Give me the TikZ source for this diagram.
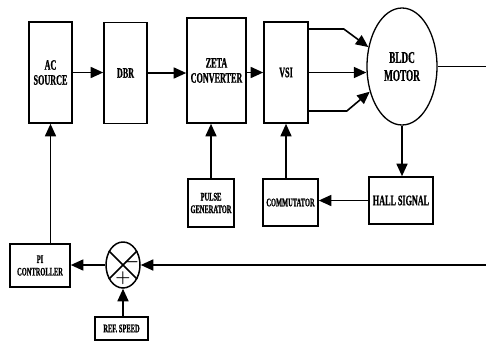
\documentclass[tikz,border=0pt]{standalone}
\usepackage{fontspec}
\setmainfont[FakeStretch=0.56, BoldFeatures={FakeBold=0.8}]{Liberation Serif}
\usetikzlibrary{shapes.geometric,arrows.meta,calc}
\begin{document}
\begin{tikzpicture}[x=1pt,y=-1pt,
  box/.style={draw, line width=1.6pt, inner sep=1pt, align=center,
    font=\bfseries\fontsize{14.5}{15}\selectfont},
  smallbox/.style={draw, line width=1.6pt, inner sep=1pt, align=center,
    font=\bfseries\fontsize{11.5}{12.5}\selectfont},
  conn/.style={line width=1.6pt, -{Triangle[length=12.5pt,width=11pt]}},
  wire/.style={line width=1.6pt},
  sign/.style={inner sep=0pt, font=\fontsize{18}{18}\selectfont\boldmath}]
\fill[white] (0,0) rectangle (486,341);
\useasboundingbox (0,0) rectangle (486,341);

\node[box, minimum width=43pt, minimum height=101pt] (ac) at (50.5,72.5) {AC\\SOURCE};
\node[box, minimum width=43pt, minimum height=101pt] (dbr) at (125.5,73) {DBR};
\node[box, minimum width=59pt, minimum height=105pt] (zeta) at (216.5,70.5) {ZETA\\CONVERTER};
\node[box, minimum width=44pt, minimum height=101pt] (vsi) at (286,72.5) {VSI};
\node[draw, ellipse, line width=1.3pt, inner sep=0pt, minimum width=70pt, minimum height=117pt,
  align=center, font=\bfseries\fontsize{16.5}{18}\selectfont] (motor) at (402,66.5) {BLDC\\MOTOR};
\node[box, minimum width=64pt, minimum height=47pt] (hall) at (401,200.5) {HALL SIGNAL};
\node[smallbox, minimum width=55pt, minimum height=47pt] (comm) at (290.5,202.5) {COMMUTATOR};
\node[smallbox, minimum width=46pt, minimum height=48pt] (pulse) at (211,203) {PULSE\\GENERATOR};
\node[smallbox, minimum width=60pt, minimum height=43pt] (pi) at (40,265.5) {PI\\CONTROLLER};
\node[draw, ellipse, line width=1.5pt, inner sep=0pt, minimum width=34pt, minimum height=46pt] (sum) at (123,265) {};
\node[smallbox, minimum width=53pt, minimum height=23pt] (ref) at (121.5,328.5) {REF. SPEED};
\node[sign] (minus) at (131.5,262.5) {$-$};
\node[sign] (plus) at (123,278) {$+$};

\coordinate (out) at (486,66.5);
\coordinate (fb) at (486,265);

\draw[wire] (sum.45) -- (sum.225);
\draw[wire] (sum.135) -- (sum.315);

\draw[conn] (ac.east) -- (ac.east -| dbr.west);
\draw[conn] (dbr.east) -- (dbr.east -| zeta.west);
\draw[conn] (zeta.east |- vsi.west) -- (vsi.west);
\draw[conn] ([yshift=43.5pt]vsi.east) -- ++(35,0) -- (motor.150);
\draw[conn] (vsi.east) -- (vsi.east -| motor.west);
\draw[conn] ([yshift=-38.5pt]vsi.east) -- ++(38,0) -- (motor.218);
\draw[wire] (motor.east) -- (out);
\draw[conn] (motor.south) -- (motor.south |- hall.north);
\draw[conn] (hall.west) -- (hall.west -| comm.east);
\draw[conn] (vsi.south |- comm.north) -- (vsi.south);
\draw[conn] (pulse.north) -- (pulse.north |- zeta.south);
\draw[conn] (pi.north -| ac.south) -- (ac.south);
\draw[conn] (sum.west) -- (sum.west -| pi.east);
\draw[conn] (fb) -- (sum.east);
\draw[conn] (sum.south |- ref.north) -- (sum.south);
\end{tikzpicture}
\end{document}
